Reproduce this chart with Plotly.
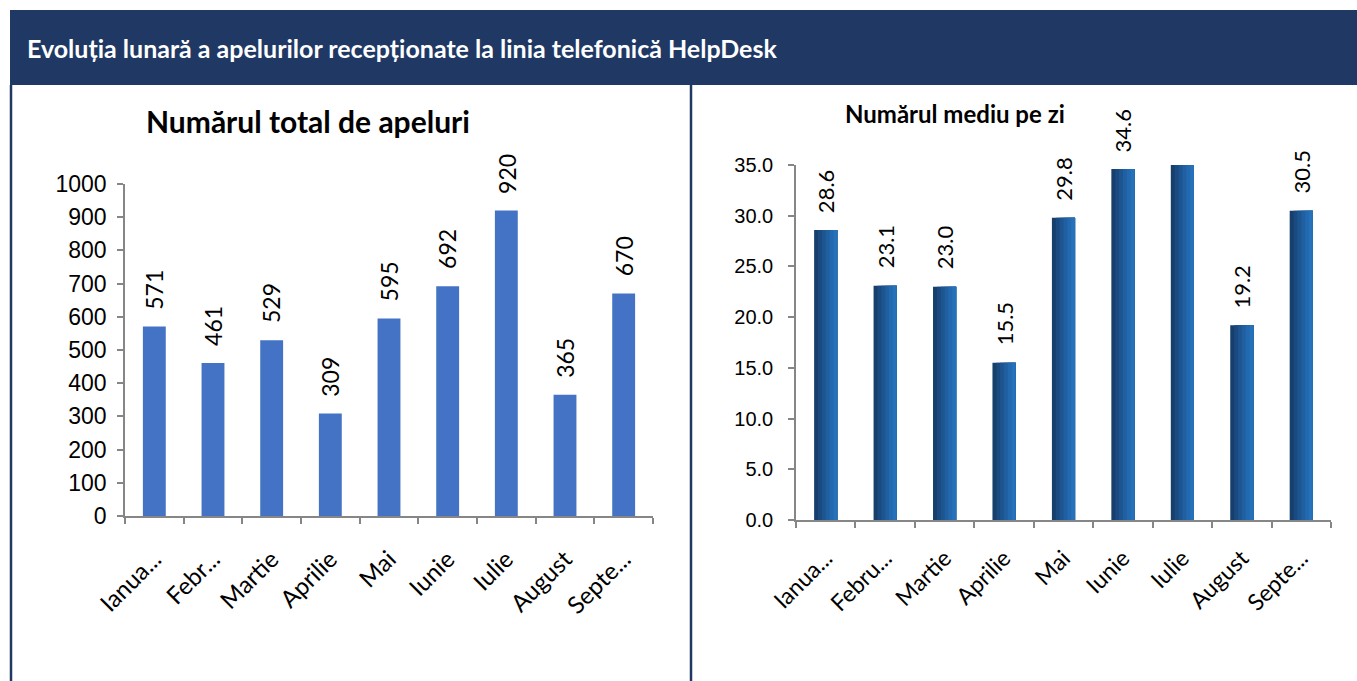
import plotly.graph_objects as go

W, H = 1357, 681

# Date
luni = ["Ianuarie", "Februarie", "Martie", "Aprilie", "Mai", "Iunie", "Iulie", "August", "Septembrie"]
etichete_luni = ["Ianua...", "Febr...", "Martie", "Aprilie", "Mai", "Iunie", "Iulie", "August", "Septe..."]
etichete_luni2 = ["Ianua...", "Febru...", "Martie", "Aprilie", "Mai", "Iunie", "Iulie", "August", "Septe..."]
total_apeluri = [571, 461, 529, 309, 595, 692, 920, 365, 670]
medie_zi = [28.6, 23.1, 23.0, 15.5, 29.8, 34.6, 35.0, 19.2, 30.5]
arata_eticheta_medie = [True, True, True, True, True, True, False, True, True]


def px_x(p):
    return p / W


def px_y(p):
    return 1 - p / H


fig = go.Figure()

# Graficul din stanga
fig.add_trace(go.Bar(
    x=luni, y=total_apeluri, xaxis="x", yaxis="y",
    marker=dict(color="#4472C4", line=dict(width=0)),
    width=0.39, showlegend=False, hoverinfo="x+y"
))

# Graficul din dreapta - benzi suprapuse pentru efectul de gradient
culori_grad = ["#173F6C", "#1A4A7F", "#1D5590", "#2060A1", "#2369AF", "#2672BA"]
n = len(culori_grad)
latime = 0.39
for i, c in enumerate(culori_grad):
    fig.add_trace(go.Bar(
        x=luni, y=medie_zi, xaxis="x2", yaxis="y2",
        marker=dict(color=c, line=dict(width=0)),
        width=latime - i * latime / n, offset=-latime / 2 + i * latime / n,
        showlegend=False, hoverinfo="x+y" if i == 0 else "skip"
    ))

fig.update_layout(barmode="overlay")

axa_comuna = dict(
    showline=True, linecolor="#868686", linewidth=1.5,
    ticks="outside", tickcolor="#868686", ticklen=6, tickwidth=1.5,
    showgrid=False, zeroline=False, fixedrange=True, automargin=False,
)

fig.update_layout(
    width=W, height=H,
    margin=dict(l=0, r=0, t=0, b=0, pad=0),
    paper_bgcolor="white", plot_bgcolor="white",
    font=dict(family="Lato", color="#000000"),
    xaxis=dict(
        axa_comuna, domain=[px_x(125), px_x(653)], anchor="y",
        type="category", tickson="boundaries", tickangle=-45,
        tickmode="array", tickvals=luni, ticktext=etichete_luni,
        tickfont=dict(family="Lato", size=24), ticklabelstandoff=18,
    ),
    yaxis=dict(
        axa_comuna, domain=[px_y(516), px_y(184)], anchor="x",
        range=[0, 1000], dtick=100,
        tickfont=dict(family="Liberation Sans", size=23), ticklabelstandoff=6,
    ),
    xaxis2=dict(
        axa_comuna, domain=[px_x(796), px_x(1331)], anchor="y2",
        type="category", tickson="boundaries", tickangle=-45,
        tickmode="array", tickvals=luni, ticktext=etichete_luni2,
        tickfont=dict(family="Lato", size=23), ticklabelstandoff=14,
    ),
    yaxis2=dict(
        axa_comuna, domain=[px_y(520), px_y(165)], anchor="x2",
        range=[0, 35], dtick=5, tickformat=".1f",
        tickfont=dict(family="Liberation Sans", size=20), ticklabelstandoff=11,
    ),
)

adnotari = []
# Etichete de date
for luna, v in zip(luni, total_apeluri):
    adnotari.append(dict(
        x=luna, y=v, xref="x", yref="y", text=str(v), showarrow=False,
        textangle=-90, yanchor="bottom", xanchor="center", yshift=15,
        font=dict(family="Lato", size=23, color="#000000")
    ))
for luna, v, arata in zip(luni, medie_zi, arata_eticheta_medie):
    if not arata:
        continue
    adnotari.append(dict(
        x=luna, y=v, xref="x2", yref="y2", text=f"{v:.1f}", showarrow=False,
        textangle=-90, yanchor="bottom", xanchor="center", yshift=15,
        font=dict(family="Lato", size=22, color="#000000")
    ))

# Titluri
adnotari.append(dict(
    x=px_x(25), y=px_y(48), xref="paper", yref="paper", xanchor="left", yanchor="middle",
    text="<b>Evoluția lunară a apelurilor recepționate la linia telefonică HelpDesk</b>",
    showarrow=False, font=dict(family="Lato", size=25, color="white")
))
adnotari.append(dict(
    x=px_x(308), y=px_y(121), xref="paper", yref="paper", xanchor="center", yanchor="middle",
    text="<b>Numărul total de apeluri</b>", showarrow=False,
    font=dict(family="Lato", size=30, color="#000000")
))
adnotari.append(dict(
    x=px_x(955), y=px_y(114), xref="paper", yref="paper", xanchor="center", yanchor="middle",
    text="<b>Numărul mediu pe zi</b>", showarrow=False,
    font=dict(family="Lato", size=24, color="#000000")
))
fig.update_layout(annotations=adnotari)

# Banda de antet si chenare
fig.update_layout(shapes=[
    dict(type="rect", xref="paper", yref="paper",
         x0=px_x(10), x1=1, y0=px_y(85), y1=px_y(10),
         fillcolor="#203864", line=dict(width=0), layer="below"),
    dict(type="line", xref="paper", yref="paper",
         x0=px_x(11), x1=px_x(11), y0=0, y1=px_y(85),
         line=dict(color="#203864", width=2.5)),
    dict(type="line", xref="paper", yref="paper",
         x0=px_x(691), x1=px_x(691), y0=0, y1=px_y(85),
         line=dict(color="#203864", width=2.5)),
])

fig.write_html(
    "out.html",
    config={"displayModeBar": False},
    post_script="document.body.style.margin='0px'; document.body.style.overflow='hidden';",
)
